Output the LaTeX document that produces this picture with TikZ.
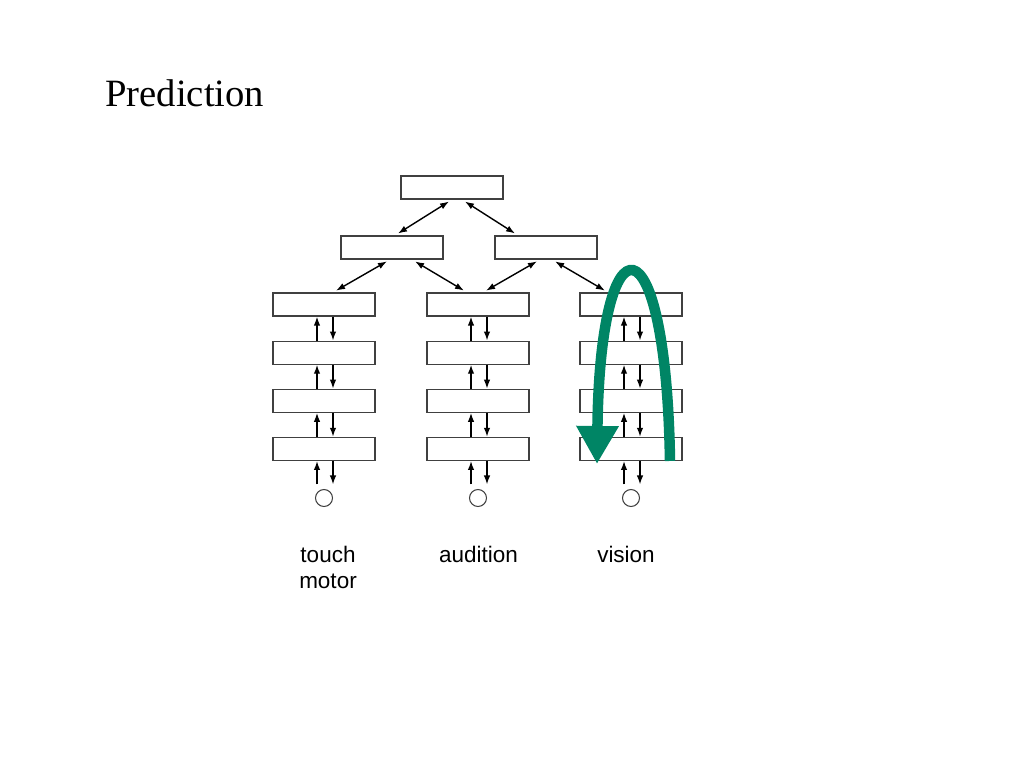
\documentclass[tikz,border=0pt]{standalone}
\usepackage{fontspec}
\setmainfont{Liberation Serif}
\setsansfont{Liberation Sans}
\usetikzlibrary{arrows.meta, calc, positioning}
\definecolor{predgreen}{RGB}{0,133,101}

\begin{document}
\begin{tikzpicture}[
    x=0.02cm, y=-0.02cm,
    >={Latex[length=1.8mm,width=1.3mm]},
    node distance = 0.478cm and 1.06cm,
    layer/.style ={draw=black!75, line width=0.7pt, minimum width=2.04cm,
                   minimum height=0.46cm, inner sep=0pt},
    sensor/.style={draw=black!75, line width=0.6pt, circle,
                   minimum size=0.34cm, inner sep=0pt},
    link/.style  ={<->, line width=0.8pt, shorten <=2pt, shorten >=2pt},
    flow/.style  ={->, line width=0.8pt},
    modality/.style={font=\sffamily\fontsize{12.8}{14.7}\selectfont,
                   align=center, anchor=north, inner sep=0pt},
    predict/.style={-{Triangle[length=0.76cm,width=0.8cm]}, line width=0.21cm,
                   predgreen},
]
\useasboundingbox (0,0) rectangle (1024,768);
\node[anchor=base west, inner sep=0pt, font=\fontsize{22}{26}\selectfont]
   (title) at (105,106) {Prediction};
% hierarchy above the three columns
\node[layer] (top) at (452,187.5) {};
\node[layer] (ml)  at (392,247.5) {};
\node[layer] (mr)  at (546,247.5) {};
% touch/motor, audition and vision stacks
\node[layer] (t1) at (324,304.5) {};
\node[layer, below=of t1] (t2) {};
\node[layer, below=of t2] (t3) {};
\node[layer, below=of t3] (t4) {};
\node[layer] (a1) at (478,304.5) {};
\node[layer, below=of a1] (a2) {};
\node[layer, below=of a2] (a3) {};
\node[layer, below=of a3] (a4) {};
\node[layer] (v1) at (631,304.5) {};
\node[layer, below=of v1] (v2) {};
\node[layer, below=of v2] (v3) {};
\node[layer, below=of v3] (v4) {};
\node[sensor] (ts) at (324,498) {};
\node[sensor] (as) at (478,498) {};
\node[sensor] (vs) at (631,498) {};
\node[modality] (tlab) at (328,546) {touch\\motor};
\node[modality] (alab) at (478.5,546) {audition};
\node[modality] (vlab) at (626,546) {vision};
% links between levels
\draw[link] (top.south) -- ([xshift=0.06cm]ml.north);
\draw[link] ([xshift=0.2cm]top.south) -- ([xshift=-0.56cm]mr.north);
\draw[link] ([xshift=-0.04cm]ml.south) -- ([xshift=0.18cm]t1.north);
\draw[link] ([xshift=0.4cm]ml.south) -- ([xshift=-0.22cm]a1.north);
\draw[link] ([xshift=-0.12cm]mr.south) -- ([xshift=0.1cm]a1.north);
\draw[link] ([xshift=0.12cm]mr.south) -- ([xshift=-0.46cm]v1.north);
% up and down inside each stack
\draw[flow] ([xshift=-0.14cm]t2.north) -- ([xshift=-0.14cm]t1.south);
\draw[flow] ([xshift=0.18cm]t1.south) -- ([xshift=0.18cm]t2.north);
\draw[flow] ([xshift=-0.14cm]t3.north) -- ([xshift=-0.14cm]t2.south);
\draw[flow] ([xshift=0.18cm]t2.south) -- ([xshift=0.18cm]t3.north);
\draw[flow] ([xshift=-0.14cm]t4.north) -- ([xshift=-0.14cm]t3.south);
\draw[flow] ([xshift=0.18cm]t3.south) -- ([xshift=0.18cm]t4.north);
\draw[flow] ([xshift=-0.14cm,yshift=0.09cm]ts.north) -- ([xshift=-0.14cm]t4.south);
\draw[flow] ([xshift=0.18cm]t4.south) -- ([xshift=0.18cm,yshift=0.09cm]ts.north);
\draw[flow] ([xshift=-0.14cm]a2.north) -- ([xshift=-0.14cm]a1.south);
\draw[flow] ([xshift=0.18cm]a1.south) -- ([xshift=0.18cm]a2.north);
\draw[flow] ([xshift=-0.14cm]a3.north) -- ([xshift=-0.14cm]a2.south);
\draw[flow] ([xshift=0.18cm]a2.south) -- ([xshift=0.18cm]a3.north);
\draw[flow] ([xshift=-0.14cm]a4.north) -- ([xshift=-0.14cm]a3.south);
\draw[flow] ([xshift=0.18cm]a3.south) -- ([xshift=0.18cm]a4.north);
\draw[flow] ([xshift=-0.14cm,yshift=0.09cm]as.north) -- ([xshift=-0.14cm]a4.south);
\draw[flow] ([xshift=0.18cm]a4.south) -- ([xshift=0.18cm,yshift=0.09cm]as.north);
\draw[flow] ([xshift=-0.14cm]v2.north) -- ([xshift=-0.14cm]v1.south);
\draw[flow] ([xshift=0.18cm]v1.south) -- ([xshift=0.18cm]v2.north);
\draw[flow] ([xshift=-0.14cm]v3.north) -- ([xshift=-0.14cm]v2.south);
\draw[flow] ([xshift=0.18cm]v2.south) -- ([xshift=0.18cm]v3.north);
\draw[flow] ([xshift=-0.14cm]v4.north) -- ([xshift=-0.14cm]v3.south);
\draw[flow] ([xshift=0.18cm]v3.south) -- ([xshift=0.18cm]v4.north);
\draw[flow] ([xshift=-0.14cm,yshift=0.09cm]vs.north) -- ([xshift=-0.14cm]v4.south);
\draw[flow] ([xshift=0.18cm]v4.south) -- ([xshift=0.18cm,yshift=0.09cm]vs.north);
% prediction loop over the vision stack
\coordinate (predfrom) at ([xshift=0.78cm]v4.south);
\coordinate (predto)   at ([xshift=-0.68cm,yshift=-0.06cm]v4.south);
\draw[predict] (predfrom) .. controls (666,212) and (600,212) .. (predto);
\end{tikzpicture}
\end{document}
